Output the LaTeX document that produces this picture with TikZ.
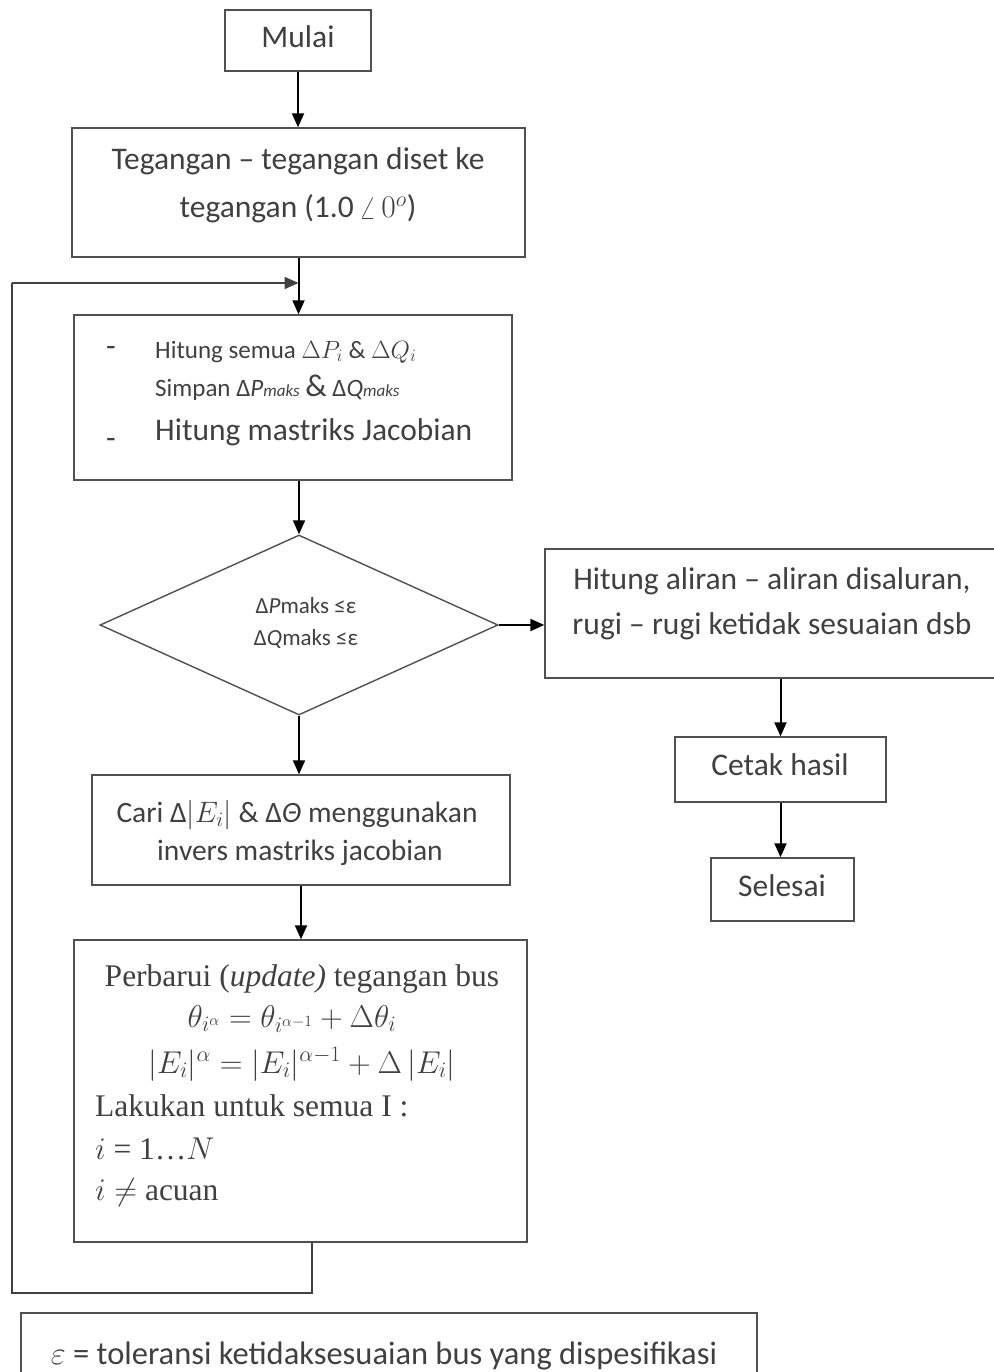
\RequirePackage{fix-cm}
\documentclass[tikz,border=0pt]{standalone}
\usepackage{amsmath}
\usepackage{fontspec}
\setmainfont{Carlito}
\newfontfamily\tnr{Liberation Serif}
\usetikzlibrary{shapes.geometric,arrows.meta}
\definecolor{txtgray}{HTML}{404040}
\definecolor{boxgray}{HTML}{505050}
\begin{document}
\begin{tikzpicture}[x=1pt,y=-1pt,
  box/.style={draw=boxgray,line width=1.4pt,inner sep=0pt},
  txt/.style={text=txtgray,inner sep=0pt,anchor=base,font=\fontsize{31.5}{38}\selectfont},
  small/.style={text=txtgray,inner sep=0pt,anchor=base west,font=\fontsize{25}{30}\selectfont},
  tiny/.style={text=txtgray,inner sep=0pt,anchor=base,font=\fontsize{23}{28}\selectfont},
  serif/.style={text=txtgray,inner sep=0pt,anchor=base,font=\tnr\fontsize{31.5}{38}\selectfont},
  arr/.style={draw=black,line width=2pt,-{Triangle[width=12pt,length=14pt]}},
  loopl/.style={draw=txtgray,line width=1.6pt}]
\useasboundingbox (0,0) rectangle (993,1372);

% boxes
\node[box,minimum width=146pt,minimum height=61pt] (start) at (298,40.5) {};
\node[box,minimum width=453pt,minimum height=129pt] (init) at (298.5,192.5) {};
\node[box,minimum width=438pt,minimum height=165pt] (calc) at (293,397.5) {};
\node[box,diamond,aspect=2.2,minimum width=398pt,minimum height=180pt] (dec) at (299,625) {};
\node[box,minimum width=455pt,minimum height=129pt] (flow) at (772.5,613.5) {};
\node[box,minimum width=211pt,minimum height=65pt] (print) at (780.5,769.5) {};
\node[box,minimum width=143pt,minimum height=63pt] (end) at (782.5,889.5) {};
\node[box,minimum width=418pt,minimum height=110pt] (solve) at (301,830) {};
\node[box,minimum width=453pt,minimum height=302pt] (upd) at (300.5,1091) {};
\node[box,minimum width=736pt,minimum height=80pt] (note) at (389,1353) {};

% texts
\node[txt] (tstart) at (298,48) {Mulai};
\node[txt] (tinit1) at (298,170) {Tegangan – tegangan diset ke};
\node[txt] (tinit2) at (298,218) {tegangan (1.0\,$\angle\, 0^{o}$)};

\node[txt,anchor=base west] (dash1) at (106,356) {-};
\node[small] (tcalc1) at (155,358) {Hitung semua $\Delta P_i$ \& $\Delta Q_i$};
\node[small] (tcalc2) at (155,396) {Simpan Δ\textit{P}{\fontsize{17}{20}\selectfont\itshape maks} {\fontsize{31.5}{38}\selectfont\&} Δ\textit{Q}{\fontsize{17}{20}\selectfont\itshape maks}};
\node[txt,anchor=base west] (dash2) at (106,448) {-};
\node[txt,anchor=base west] (tcalc3) at (155,440) {Hitung mastriks Jacobian};

\node[tiny] (tdec1) at (306,613) {Δ\textit{P}maks ≤ε};
\node[tiny] (tdec2) at (306,645) {Δ\textit{Q}maks ≤ε};

\node[txt] (tflow1) at (772,589) {Hitung aliran – aliran disaluran,};
\node[txt] (tflow2) at (772,634) {rugi – rugi ketidak sesuaian dsb};
\node[txt] (tprint) at (780,775) {Cetak hasil};
\node[txt] (tend) at (782,896) {Selesai};

\node[txt,font=\fontsize{29.5}{36}\selectfont] (tsolve1) at (297,822) {Cari Δ$|E_i|$ \& Δ\textit{Θ} menggunakan};
\node[txt,font=\fontsize{29.5}{36}\selectfont] (tsolve2) at (300,860) {invers mastriks jacobian};

\node[serif] (tupd1) at (302,986) {Perbarui (\textit{update)} tegangan bus};
\node[serif] (tupd2) at (292,1027) {$\theta_{i^{\alpha}} = \theta_{i^{\alpha-1}} + \Delta\theta_{i}$};
\node[serif] (tupd3) at (302,1073) {$|E_i|^{\alpha} = |E_i|^{\alpha-1} + \Delta\,|E_i|$};
\node[serif,anchor=base west] (tupd4) at (95,1116) {Lakukan untuk semua I :};
\node[serif,anchor=base west] (tupd5) at (95,1159) {$i$ = 1…$N$};
\node[serif,anchor=base west] (tupd6) at (95,1200) {$i \neq$ acuan};

\node[txt,font=\fontsize{32.5}{38}\selectfont] (tnote) at (384,1364) {$\varepsilon$ = toleransi ketidaksesuaian bus yang dispesifikasi};

% connectors
\draw[arr] (start.south) -- (start.south |- init.north);
\draw[arr] (init.south) -- (init.south |- calc.north);
\draw[arr] (dec.north |- calc.south) -- (dec.north);
\draw[arr] (dec.south) -- (dec.south |- solve.north);
\draw[arr] (solve.south) -- (solve.south |- upd.north);
\draw[arr] (dec.east) -- (dec.east -| flow.west);
\draw[arr] (print.north |- flow.south) -- (print.north);
\draw[arr] (print.south) -- (print.south |- end.north);

\coordinate (lb) at (12,1293);
\coordinate (lt) at (12,283);
\draw[loopl] ([xshift=11.5pt]upd.south) |- (lb) -- (lt);
\draw[loopl,-{Triangle[width=12pt,length=14pt]}] (lt) -- (lt -| init.south);
\end{tikzpicture}
\end{document}
